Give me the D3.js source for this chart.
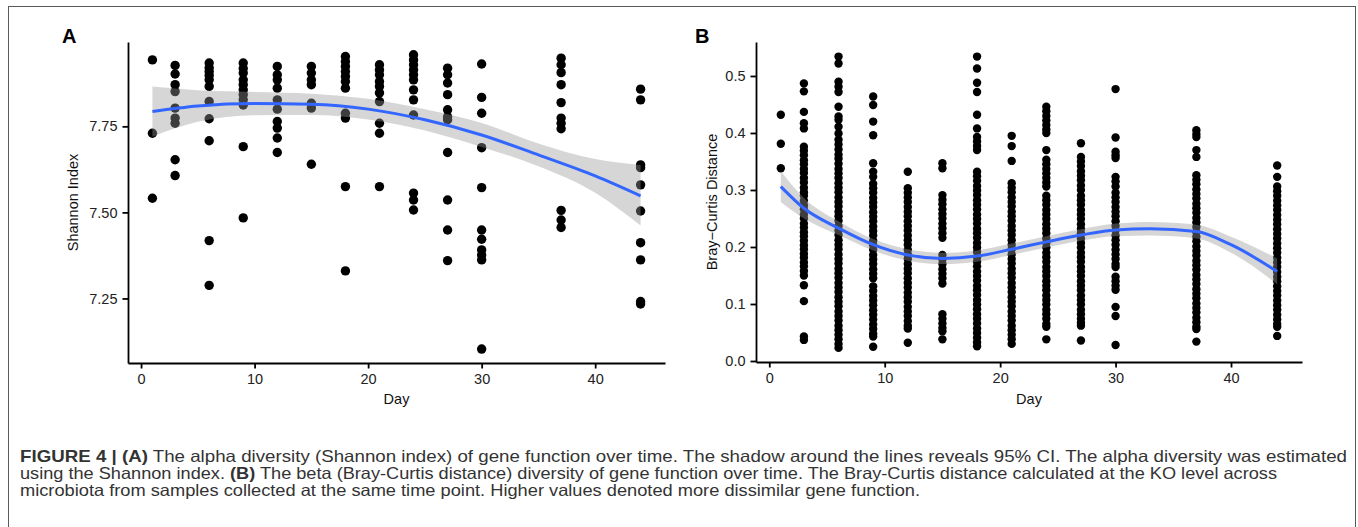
<!DOCTYPE html>
<html>
<head>
<meta charset="utf-8">
<script src="https://cdnjs.cloudflare.com/ajax/libs/d3/7.8.5/d3.min.js"></script>
<style>
  body { margin: 0; background: #fff; }
  svg { display: block; font-family: "Liberation Sans", Arial, sans-serif; }
</style>
</head>
<body>
<svg id="fig" width="1358" height="527"></svg>
<script>
// ---- data ----
var days = [1, 3, 6, 9, 12, 15, 18, 21, 24, 27, 30, 37, 44];
var xTicks = [0, 10, 20, 30, 40];

// panel A: Shannon index per sample
var shannon = [
  [7.943, 7.730, 7.541],
  [7.927, 7.902, 7.871, 7.851, 7.803, 7.774, 7.759, 7.653, 7.607],
  [7.934, 7.920, 7.909, 7.898, 7.885, 7.866, 7.822, 7.772, 7.708, 7.418, 7.288],
  [7.934, 7.918, 7.905, 7.885, 7.871, 7.856, 7.842, 7.827, 7.812, 7.691, 7.484],
  [7.924, 7.900, 7.885, 7.861, 7.827, 7.800, 7.764, 7.745, 7.716, 7.674],
  [7.924, 7.905, 7.885, 7.871, 7.817, 7.803, 7.640],
  [7.953, 7.938, 7.924, 7.909, 7.895, 7.880, 7.861, 7.788, 7.774, 7.575, 7.330],
  [7.929, 7.914, 7.900, 7.880, 7.866, 7.847, 7.822, 7.759, 7.730, 7.575],
  [7.958, 7.943, 7.929, 7.914, 7.900, 7.885, 7.856, 7.827, 7.783, 7.556, 7.536, 7.507],
  [7.919, 7.900, 7.876, 7.842, 7.798, 7.778, 7.769, 7.674, 7.536, 7.449, 7.360],
  [7.931, 7.834, 7.788, 7.688, 7.572, 7.449, 7.422, 7.391, 7.376, 7.362, 7.103],
  [7.948, 7.929, 7.906, 7.871, 7.819, 7.774, 7.759, 7.743, 7.506, 7.478, 7.456],
  [7.858, 7.827, 7.638, 7.630, 7.580, 7.504, 7.412, 7.362, 7.241, 7.234]
];
var shannonTicks = [7.25, 7.50, 7.75];

// panel A smooth (fit and 95% CI)
var smoothDaysA = [1, 5, 10, 15, 20, 25, 30, 35, 40, 44];
var fitA =   [7.793, 7.809, 7.816, 7.814, 7.800, 7.769, 7.725, 7.667, 7.606, 7.548];
var upperA = [7.866, 7.855, 7.850, 7.845, 7.830, 7.800, 7.760, 7.700, 7.655, 7.638];
var lowerA = [7.720, 7.763, 7.782, 7.783, 7.770, 7.738, 7.690, 7.634, 7.557, 7.462];

// panel B: pairwise Bray-Curtis distances per day
var bray = [
  [0.432, 0.381, 0.338],
  [0.487, 0.473, 0.437, 0.417, 0.408, 0.376, 0.369, 0.361, 0.352, 0.345, 0.337, 0.330, 0.321, 0.313, 0.304, 0.296, 0.290, 0.281, 0.273, 0.266, 0.257, 0.250, 0.241, 0.234, 0.226, 0.219, 0.211, 0.203, 0.196, 0.188, 0.181, 0.173, 0.166, 0.158, 0.150, 0.133, 0.105, 0.043, 0.037],
  [0.534, 0.522, 0.490, 0.481, 0.472, 0.446, 0.429, 0.423, 0.411, 0.399, 0.388, 0.380, 0.371, 0.362, 0.355, 0.346, 0.337, 0.329, 0.321, 0.312, 0.304, 0.296, 0.287, 0.279, 0.271, 0.262, 0.254, 0.246, 0.237, 0.229, 0.221, 0.212, 0.204, 0.196, 0.187, 0.179, 0.171, 0.162, 0.154, 0.146, 0.137, 0.129, 0.121, 0.112, 0.104, 0.096, 0.087, 0.079, 0.071, 0.062, 0.054, 0.046, 0.038, 0.030, 0.023],
  [0.464, 0.449, 0.420, 0.396, 0.347, 0.332, 0.323, 0.311, 0.303, 0.295, 0.286, 0.278, 0.270, 0.261, 0.253, 0.245, 0.236, 0.228, 0.220, 0.211, 0.203, 0.195, 0.186, 0.178, 0.170, 0.161, 0.153, 0.145, 0.131, 0.123, 0.114, 0.106, 0.098, 0.089, 0.081, 0.073, 0.064, 0.056, 0.048, 0.043, 0.025],
  [0.332, 0.303, 0.295, 0.287, 0.279, 0.270, 0.262, 0.254, 0.245, 0.237, 0.229, 0.220, 0.212, 0.204, 0.195, 0.187, 0.179, 0.170, 0.162, 0.154, 0.145, 0.137, 0.129, 0.120, 0.112, 0.104, 0.095, 0.087, 0.079, 0.070, 0.062, 0.057, 0.032],
  [0.347, 0.338, 0.291, 0.283, 0.275, 0.266, 0.258, 0.250, 0.241, 0.233, 0.224, 0.216, 0.186, 0.178, 0.170, 0.161, 0.153, 0.145, 0.136, 0.082, 0.074, 0.066, 0.058, 0.052, 0.038],
  [0.534, 0.513, 0.488, 0.472, 0.432, 0.408, 0.393, 0.385, 0.377, 0.370, 0.332, 0.324, 0.316, 0.307, 0.299, 0.291, 0.282, 0.274, 0.266, 0.257, 0.249, 0.241, 0.232, 0.224, 0.216, 0.207, 0.199, 0.191, 0.182, 0.174, 0.166, 0.157, 0.149, 0.141, 0.132, 0.124, 0.116, 0.107, 0.099, 0.091, 0.082, 0.074, 0.066, 0.057, 0.049, 0.041, 0.033, 0.026],
  [0.395, 0.377, 0.351, 0.312, 0.304, 0.296, 0.287, 0.279, 0.271, 0.262, 0.254, 0.246, 0.237, 0.229, 0.221, 0.212, 0.204, 0.196, 0.187, 0.179, 0.171, 0.162, 0.154, 0.146, 0.137, 0.129, 0.121, 0.112, 0.104, 0.096, 0.087, 0.079, 0.071, 0.062, 0.054, 0.046, 0.038, 0.030],
  [0.446, 0.438, 0.430, 0.422, 0.414, 0.406, 0.400, 0.370, 0.353, 0.345, 0.337, 0.329, 0.321, 0.313, 0.306, 0.290, 0.282, 0.274, 0.265, 0.257, 0.249, 0.240, 0.232, 0.224, 0.215, 0.207, 0.199, 0.190, 0.182, 0.174, 0.165, 0.157, 0.149, 0.140, 0.132, 0.124, 0.115, 0.107, 0.099, 0.090, 0.082, 0.074, 0.065, 0.060, 0.038],
  [0.382, 0.358, 0.350, 0.342, 0.333, 0.325, 0.317, 0.308, 0.300, 0.290, 0.282, 0.274, 0.265, 0.257, 0.249, 0.240, 0.232, 0.224, 0.215, 0.207, 0.199, 0.190, 0.182, 0.174, 0.165, 0.157, 0.149, 0.140, 0.132, 0.124, 0.115, 0.107, 0.099, 0.090, 0.082, 0.074, 0.067, 0.062, 0.036],
  [0.477, 0.392, 0.367, 0.361, 0.356, 0.323, 0.315, 0.306, 0.295, 0.287, 0.279, 0.270, 0.262, 0.254, 0.245, 0.237, 0.229, 0.220, 0.212, 0.204, 0.195, 0.187, 0.179, 0.170, 0.165, 0.148, 0.140, 0.132, 0.125, 0.095, 0.079, 0.028],
  [0.405, 0.398, 0.393, 0.370, 0.358, 0.326, 0.318, 0.310, 0.301, 0.293, 0.285, 0.276, 0.268, 0.260, 0.251, 0.243, 0.235, 0.226, 0.218, 0.210, 0.201, 0.193, 0.185, 0.176, 0.168, 0.160, 0.151, 0.143, 0.135, 0.126, 0.118, 0.110, 0.101, 0.093, 0.085, 0.076, 0.068, 0.060, 0.056, 0.034],
  [0.343, 0.323, 0.306, 0.298, 0.290, 0.281, 0.273, 0.265, 0.256, 0.248, 0.240, 0.231, 0.223, 0.215, 0.206, 0.198, 0.190, 0.181, 0.173, 0.165, 0.156, 0.148, 0.140, 0.131, 0.123, 0.115, 0.106, 0.098, 0.090, 0.081, 0.073, 0.065, 0.060, 0.044]
];
var brayTicks = [0.0, 0.1, 0.2, 0.3, 0.4, 0.5];

// panel B smooth (fit and 95% CI)
var smoothDaysB = [1, 3, 6, 9, 12, 15, 18, 21, 24, 27, 30, 33, 37, 40, 44];
var fitB =   [0.306, 0.268, 0.233, 0.204, 0.186, 0.180, 0.184, 0.196, 0.209, 0.221, 0.230, 0.232, 0.227, 0.204, 0.157];
var upperB = [0.333, 0.286, 0.245, 0.214, 0.196, 0.190, 0.194, 0.206, 0.219, 0.231, 0.241, 0.244, 0.239, 0.218, 0.180];
var lowerB = [0.279, 0.250, 0.221, 0.194, 0.176, 0.170, 0.174, 0.186, 0.199, 0.211, 0.219, 0.220, 0.215, 0.190, 0.135];

var captionLines = [
  [{t: "FIGURE 4 | (A)", b: true}, {t: " The alpha diversity (Shannon index) of gene function over time. The shadow around the lines reveals 95% CI. The alpha diversity was estimated"}],
  [{t: "using the Shannon index. "}, {t: "(B)", b: true}, {t: " The beta (Bray-Curtis distance) diversity of gene function over time. The Bray-Curtis distance calculated at the KO level across"}],
  [{t: "microbiota from samples collected at the same time point. Higher values denoted more dissimilar gene function."}]
];
var captionWidths = [1327, 1257, 900];

var svg = d3.select('#fig');

// outer frame
svg.append('rect')
  .attr('x', 8.5).attr('y', 6.5)
  .attr('width', 1347).attr('height', 540)
  .attr('fill', 'none').attr('stroke', '#5a5a5a').attr('stroke-width', 1);

function panel(opts) {
  var g = svg.append('g');
  var x = d3.scaleLinear().domain([-1.15, 46.15]).range([opts.left, opts.right]);
  var y = d3.scaleLinear().domain(opts.yDomain).range([opts.bottom, opts.top]);

  // points
  var pts = [];
  days.forEach(function(d, i) {
    opts.values[i].forEach(function(v) { pts.push({day: d, v: v}); });
  });
  g.selectAll('circle.pt').data(pts).enter().append('circle')
    .attr('class', 'pt')
    .attr('cx', function(d) { return x(d.day); })
    .attr('cy', function(d) { return y(d.v); })
    .attr('r', opts.r)
    .attr('fill', '#000');

  // confidence band + fit line
  var sm = opts.sDays.map(function(d, i) {
    return {day: d, fit: opts.fit[i], lo: opts.lower[i], hi: opts.upper[i]};
  });
  g.append('path').datum(sm)
    .attr('d', d3.area().curve(d3.curveMonotoneX)
      .x(function(d) { return x(d.day); })
      .y0(function(d) { return y(d.lo); })
      .y1(function(d) { return y(d.hi); }))
    .attr('fill', '#999999').attr('fill-opacity', 0.4);
  g.append('path').datum(sm)
    .attr('d', d3.line().curve(d3.curveMonotoneX)
      .x(function(d) { return x(d.day); })
      .y(function(d) { return y(d.fit); }))
    .attr('fill', 'none').attr('stroke', '#3366FF').attr('stroke-width', 3);

  // axes
  var ax = g.append('g').attr('transform', 'translate(0,' + opts.bottom + ')')
    .call(d3.axisBottom(x).tickValues(xTicks).tickSize(5.5).tickSizeOuter(0).tickPadding(5));
  var ay = g.append('g').attr('transform', 'translate(' + opts.left + ',0)')
    .call(d3.axisLeft(y).tickValues(opts.yTicks).tickFormat(opts.fmt).tickSize(5.5).tickSizeOuter(0).tickPadding(5));
  [ax, ay].forEach(function(a) {
    a.attr('font-size', null).attr('font-family', null);
    a.select('.domain').attr('stroke', '#000').attr('stroke-width', 1.8);
    a.selectAll('.tick line').attr('stroke', '#000').attr('stroke-width', 1.8);
    a.selectAll('.tick text').attr('fill', '#222').style('font-size', '14.5px');
  });

  // axis titles
  g.append('text')
    .attr('x', (opts.left + opts.right) / 2).attr('y', 404)
    .attr('text-anchor', 'middle').style('font-size', '14.5px').attr('fill', '#111')
    .text('Day');
  g.append('text')
    .attr('transform', 'translate(' + opts.titleX + ',' + ((opts.top + opts.bottom) / 2) + ') rotate(-90)')
    .attr('text-anchor', 'middle').style('font-size', '14.5px').attr('fill', '#111')
    .text(opts.yTitle);

  // panel letter
  g.append('text')
    .attr('x', opts.letterX).attr('y', 43)
    .style('font-size', '20px').style('font-weight', 'bold')
    .text(opts.letter);
}

panel({
  left: 128, right: 665, top: 42, bottom: 363,
  yDomain: [7.0625, 7.995], yTicks: shannonTicks, fmt: d3.format('.2f'),
  values: shannon, r: 4.7,
  sDays: smoothDaysA, fit: fitA, lower: lowerA, upper: upperA,
  yTitle: 'Shannon Index', titleX: 78, letter: 'A', letterX: 62
});

panel({
  left: 756, right: 1302, top: 42, bottom: 362,
  yDomain: [-0.00175, 0.5596], yTicks: brayTicks, fmt: d3.format('.1f'),
  values: bray, r: 4.2,
  sDays: smoothDaysB, fit: fitB, lower: lowerB, upper: upperB,
  yTitle: 'Bray\u2212Curtis Distance', titleX: 717, letter: 'B', letterX: 695
});

// caption
var cap = svg.append('g').attr('fill', '#333')
  .style('font-family', '"Liberation Sans", Arial, sans-serif')
  .style('font-size', '16.5px');
captionLines.forEach(function(line, i) {
  var t = cap.append('text').attr('x', 20).attr('y', 462 + i * 17);
  line.forEach(function(seg) {
    t.append('tspan').text(seg.t).style('font-weight', seg.b ? 'bold' : 'normal');
  });
  t.attr('textLength', captionWidths[i]).attr('lengthAdjust', 'spacingAndGlyphs');
});
</script>
</body>
</html>
